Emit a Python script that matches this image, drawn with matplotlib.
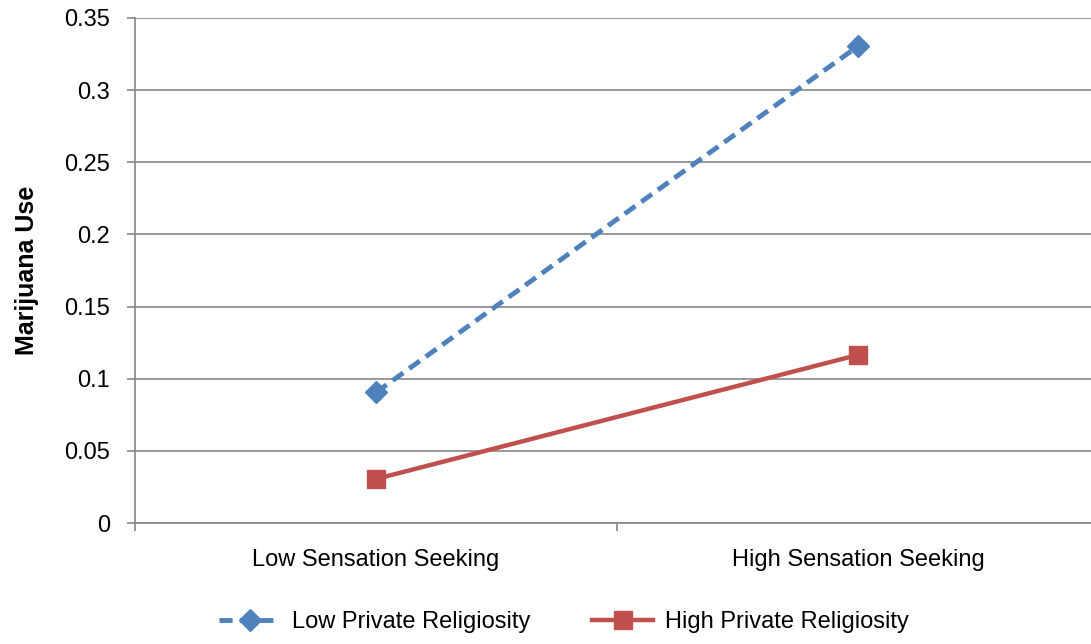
import numpy as np
import matplotlib.pyplot as plt
from matplotlib.ticker import FixedLocator, NullFormatter

# data
categories = ['Low Sensation Seeking', 'High Sensation Seeking']
low_relig = [0.0905, 0.3305]
high_relig = [0.0305, 0.1165]
yticks = [0, 0.05, 0.1, 0.15, 0.2, 0.25, 0.3, 0.35]
ytick_labels = ['0', '0.05', '0.1', '0.15', '0.2', '0.25', '0.3', '0.35']

plt.rcParams['font.family'] = ['Liberation Sans', 'DejaVu Sans']

fig = plt.figure(figsize=(10.91, 6.44), dpi=100)
# plot area runs a little past the right edge of the picture, as in the reference
ax = fig.add_axes([135/1091, 1-523/644, (1099-135)/1091, (523-18)/644])

x = np.arange(len(categories))
ax.plot(x, low_relig, color='#4F81BD', lw=3.5, ls=(0, (2.7, 1.5)),
        marker='D', ms=11, label='Low Private Religiosity', clip_on=False)
ax.plot(x, high_relig, color='#C0504D', lw=3.2, marker='s', ms=13,
        label='High Private Religiosity', clip_on=False)

ax.set_xlim(-0.5, 1.5)
ax.set_ylim(0, 0.35)
ax.set_yticks(yticks)
ax.set_yticklabels(ytick_labels)
ax.yaxis.grid(True, color='#868686', lw=1.2)
ax.set_axisbelow(True)

ax.set_xticks(x)
ax.set_xticklabels(categories)
ax.tick_params(axis='x', length=0, pad=19, labelsize=17)
ax.xaxis.set_minor_locator(FixedLocator([-0.5, 0.5, 1.5]))
ax.xaxis.set_minor_formatter(NullFormatter())
ax.tick_params(axis='x', which='minor', length=6, color='#868686', width=1.2)
ax.tick_params(axis='y', length=6, color='#868686', width=1.2, labelsize=17, pad=12)

for s in ['top', 'right']:
    ax.spines[s].set_visible(False)
for s in ['left', 'bottom']:
    ax.spines[s].set_color('#868686')
    ax.spines[s].set_linewidth(1.2)

ax.set_ylabel('Marijuana Use', fontsize=18, fontweight='bold', labelpad=18)

fig.legend(loc='center', bbox_to_anchor=(0.517, 1-622/644), ncol=2, frameon=False,
           fontsize=17, handlelength=2.6, columnspacing=2.6, handletextpad=0.5)

fig.savefig('out.png', dpi=100)
